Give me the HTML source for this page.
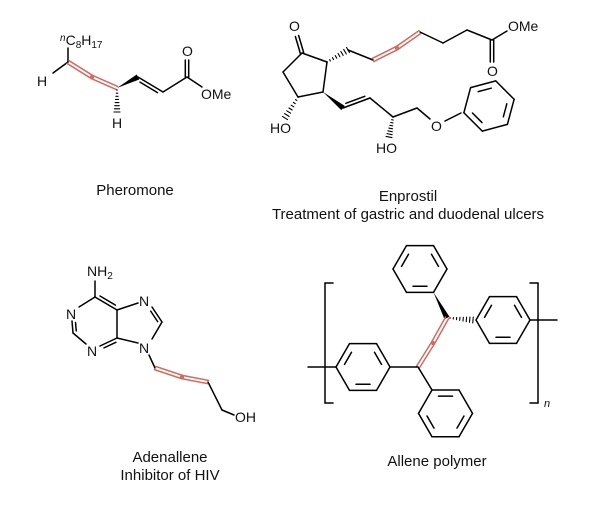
<!DOCTYPE html>
<html><head><meta charset="utf-8"><style>
html,body{margin:0;padding:0;background:#fff;}
svg{display:block;}
text{font-family:"Liberation Sans",Arial,sans-serif;fill:#111;}
</style></head><body>
<svg id="s" width="606" height="509" viewBox="0 0 606 509" xmlns="http://www.w3.org/2000/svg">
<g font-size="14">
<!-- Pheromone labels -->
<text x="60" y="45"><tspan font-size="10" font-style="italic" dy="-4">n</tspan><tspan dy="4">C</tspan><tspan font-size="10" dy="3">8</tspan><tspan dy="-3">H</tspan><tspan font-size="10" dy="3">17</tspan></text>
<text x="37" y="86">H</text>
<text x="112" y="128">H</text>
<text x="182" y="56">O</text>
<text x="201" y="99">OMe</text>
<text x="135" y="195" text-anchor="middle" font-size="15">Pheromone</text>
<!-- Enprostil labels -->
<text x="289" y="31">O</text>
<text x="487" y="76">O</text>
<text x="508" y="31">OMe</text>
<text x="270" y="133">HO</text>
<text x="431" y="131">O</text>
<text x="376" y="153">HO</text>
<text x="408" y="201" text-anchor="middle" font-size="15">Enprostil</text>
<text x="408" y="219" text-anchor="middle" font-size="15">Treatment of gastric and duodenal ulcers</text>
<!-- Adenallene labels -->
<text x="87" y="276">NH<tspan font-size="10" dy="3">2</tspan></text>
<text x="66" y="319">N</text>
<text x="87" y="356">N</text>
<text x="139" y="306">N</text>
<text x="139" y="353">N</text>
<text x="235" y="422">OH</text>
<text x="170" y="462" text-anchor="middle" font-size="15">Adenallene</text>
<text x="170" y="480" text-anchor="middle" font-size="15">Inhibitor of HIV</text>
<!-- polymer -->
<text x="544" y="407" font-size="11" font-style="italic" fill="#223">n</text>
<text x="437" y="466" text-anchor="middle" font-size="15">Allene polymer</text>
</g>
</svg>
<script>
const S=document.getElementById('s');const NS='http://www.w3.org/2000/svg';const R='#d46a60';
function el(t,a){const e=document.createElementNS(NS,t);for(const k in a)e.setAttribute(k,a[k]);S.appendChild(e);return e;}
function L(x1,y1,x2,y2,c='#000',w=1.5){el('line',{x1,y1,x2,y2,stroke:c,'stroke-width':w,'stroke-linecap':'round'});}
function D(x1,y1,x2,y2,s=1,c='#000'){L(x1,y1,x2,y2,c);const dx=x2-x1,dy=y2-y1,l=Math.hypot(dx,dy),nx=-dy/l*3.4*s,ny=dx/l*3.4*s,k=0.15;
L(x1+dx*k+nx,y1+dy*k+ny,x2-dx*k+nx,y2-dy*k+ny,c);}
function Dc(x1,y1,x2,y2,c='#000'){const dx=x2-x1,dy=y2-y1,l=Math.hypot(dx,dy),nx=-dy/l*1.7,ny=dx/l*1.7;L(x1+nx,y1+ny,x2+nx,y2+ny,c);L(x1-nx,y1-ny,x2-nx,y2-ny,c);}
function dot(x,y){el('circle',{cx:x,cy:y,r:2.2,fill:R});}
function wedge(x1,y1,x2,y2){const dx=x2-x1,dy=y2-y1,l=Math.hypot(dx,dy),nx=-dy/l*2.8,ny=dx/l*2.8;el('polygon',{points:`${x1},${y1} ${x2+nx},${y2+ny} ${x2-nx},${y2-ny}`,fill:'#000'});}
function hash(x1,y1,x2,y2){const dx=x2-x1,dy=y2-y1,l=Math.hypot(dx,dy),n=7;for(let i=0;i<=n;i++){const t=i/n,h=0.4+2.6*t,nx=-dy/l*h,ny=dx/l*h,x=x1+dx*t,y=y1+dy*t;L(x+nx,y+ny,x-nx,y-ny,'#000',1.1);}}
function ring(cx,cy,r,rot,d=[0,2,4]){const v=[];for(let i=0;i<6;i++){const a=(rot+60*i)*Math.PI/180;v.push([cx+r*Math.cos(a),cy+r*Math.sin(a)]);}
for(let i=0;i<6;i++){const a=v[i],b=v[(i+1)%6];L(a[0],a[1],b[0],b[1]);}
for(const i of d){const a=v[i],b=v[(i+1)%6],k=0.74,t=0.15;const ax=cx+(a[0]-cx)*k,ay=cy+(a[1]-cy)*k,bx=cx+(b[0]-cx)*k,by=cy+(b[1]-cy)*k;
L(ax+(bx-ax)*t,ay+(by-ay)*t,bx-(bx-ax)*t,by-(by-ay)*t);}return v;}
// Pheromone
L(68,48,68,62);L(68,62,53,73);
Dc(68,62,92,77,R);Dc(92,77,117,88,R);dot(92,77);
hash(117,90,117,112);wedge(117,88,138,77);
D(138,77,163,92,1);L(163,92,187,77);Dc(187,77,187,60);L(187,77,202,87);
// Enprostil
L(302,53,327,62);L(327,62,323,92);L(323,92,298,97);L(298,97,283,72);L(283,72,302,53);
Dc(302,53,297,36);
hash(327,62,348,50);L(348,50,373,60);
Dc(373,60,397,48,R);Dc(397,48,420,32,R);dot(397,48);
L(420,32,443,43);L(443,43,467,30);L(467,30,492,40);Dc(492,40,492,62);L(492,40,507,31);
wedge(323,92,343,108);D(343,108,370,98,-1);L(370,98,393,117);hash(393,117,389,137);
L(393,117,417,108);L(417,108,430,119);L(445,121,461,113);
ring(489,106,26,165,[1,3,5]);
hash(298,97,285,118);
// Adenallene
L(95,281,95,297);L(95,297,79,307);D(72,321,73,333,-1);L(73,333,86,344);
D(100,346,117,338,1);L(117,338,117,310);D(117,310,95,297,1);
L(117,310,138,303);D(152,307,162,322,1);L(162,322,152,339);L(138,343,117,338);
L(149,355,155,368);Dc(155,368,182,377,R);Dc(182,377,208,382,R);dot(182,377);
L(208,382,222,410);L(222,410,234,415);
// Polymer
ring(420,269,27,0,[1,3,5]);
wedge(433.5,292.4,447,318);hash(450,318,473,320);
ring(503,320,27,0,[1,3,5]);L(530,320,557,320);
Dc(447,318,433,343,R);Dc(433,343,418,367,R);dot(433,343);
ring(363,367,27,0,[1,3,5]);L(308,367,336,367);L(390,367,418,367);
L(418,367,432,390);ring(445.5,413.4,27,0,[0,2,4]);
// brackets
L(333,283,325,283);L(325,283,325,403);L(325,403,333,403);
L(530,283,538,283);L(538,283,538,403);L(538,403,530,403);
</script>
</body></html>
